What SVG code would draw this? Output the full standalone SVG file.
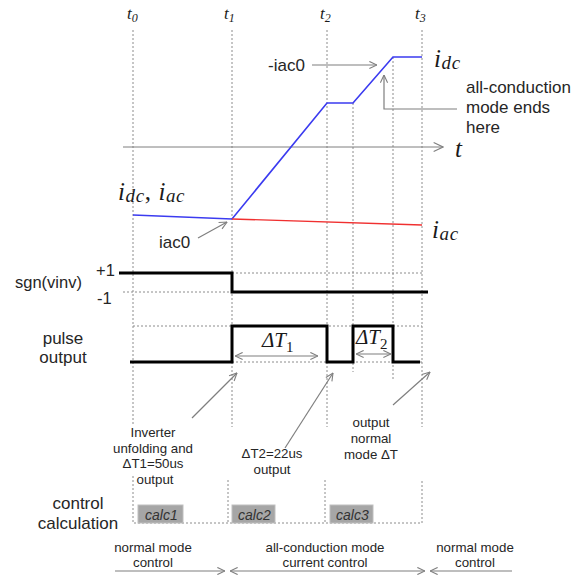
<svg xmlns="http://www.w3.org/2000/svg" width="581" height="575" viewBox="0 0 581 575">
<style>
.grid{stroke:#8c8c8c;stroke-width:1;stroke-dasharray:2 2;fill:none}
.lbl{font-family:"Liberation Sans",Arial,sans-serif;fill:#262626}
.math{font-family:"Liberation Serif","DejaVu Serif",serif;font-style:italic;fill:#1a1a1a}
.arr{stroke:#7f7f7f;stroke-width:1.2;fill:none}
.sig{stroke:#000;stroke-width:3;fill:none}
.calc{fill:#a6a6a6;stroke:#bfbfbf;stroke-width:1}
.ctx{font-family:"Liberation Sans",Arial,sans-serif;font-style:italic;font-size:14px;fill:#333}
</style>
<defs>
<marker id="ah" viewBox="0 0 10 10" refX="9.5" refY="5" markerWidth="9" markerHeight="9" orient="auto-start-reverse" markerUnits="userSpaceOnUse"><path d="M1,1 L9.5,5 L1,9" fill="none" stroke="#7f7f7f" stroke-width="1.2"/></marker>
<marker id="ax" viewBox="0 0 10 10" refX="9.5" refY="5" markerWidth="11" markerHeight="11" orient="auto" markerUnits="userSpaceOnUse"><path d="M1,1 L9.5,5 L1,9" fill="none" stroke="#7f7f7f" stroke-width="1"/></marker>
</defs>
<rect width="581" height="575" fill="#fff"/>

<g id="grid">
<path class="grid" d="M133,30 V425 M232,30 V427 M327,30 V427 M422,30 V427 M353,103 V372 M393,57 V380"/>
<path class="grid" d="M232,273 H422 M123,292 H232 M133,326 H422 M232,362 H422"/>
<path class="grid" d="M133,476 V523 H422 V480 M228,480 V523 M325,480 V523"/>
</g>

<g id="time-labels" class="math">
<text x="127" y="19" font-size="17">t<tspan font-size="12" dy="3">0</tspan></text>
<text x="224" y="19" font-size="17">t<tspan font-size="12" dy="3">1</tspan></text>
<text x="320" y="19" font-size="17">t<tspan font-size="12" dy="3">2</tspan></text>
<text x="415" y="19" font-size="17">t<tspan font-size="12" dy="3">3</tspan></text>
</g>

<g id="axis">
<path d="M123,147 H443" stroke="#7f7f7f" stroke-width="1" fill="none" marker-end="url(#ax)"/>
<text class="math" x="455" y="157" font-size="25">t</text>
</g>

<g id="currents">
<path d="M133,215 L232,219 L327,103 L353,103 L393,57 L422,57" stroke="#3b3bf0" stroke-width="1.6" fill="none"/>
<path d="M232,219 L422,225" stroke="#f03030" stroke-width="1.3" fill="none"/>
<text class="math" x="434" y="67" font-size="25" letter-spacing="0.6">i<tspan font-size="19" dy="2">dc</tspan></text>
<text class="math" x="118" y="200" font-size="25" letter-spacing="0.6">i<tspan font-size="19" dy="2">dc</tspan><tspan dy="-2" font-style="normal">, </tspan>i<tspan font-size="19" dy="2">ac</tspan></text>
<text class="math" x="432" y="238" font-size="25" letter-spacing="0.6">i<tspan font-size="19" dy="2">ac</tspan></text>
<text class="lbl" x="268" y="71" font-size="17">-iac0</text>
<text class="lbl" x="159" y="248" font-size="17">iac0</text>
<text class="lbl" x="466" y="93" font-size="17">all-conduction</text>
<text class="lbl" x="466" y="113" font-size="17">mode ends</text>
<text class="lbl" x="466" y="133" font-size="17">here</text>
</g>

<g id="sgn">
<path class="sig" d="M119,273 H232 V292 H428"/>
<text class="lbl" x="15" y="288" font-size="16.5">sgn(vinv)</text>
<text class="lbl" x="96" y="276" font-size="16.5">+1</text>
<text class="lbl" x="97" y="304" font-size="16.5">-1</text>
</g>

<g id="pulse">
<path class="sig" d="M130,362 H232 V326 H327 V362 H353 V326 H393 V362 H420"/>
<text class="lbl" x="63" y="344" font-size="17" text-anchor="middle">pulse</text>
<text class="lbl" x="63" y="363" font-size="17" text-anchor="middle">output</text>
<text class="math" x="262" y="347" font-size="21" font-style="normal">Δ<tspan font-style="italic">T</tspan><tspan font-size="15" dy="5" font-style="normal">1</tspan></text>
<text class="math" x="356" y="344" font-size="21" font-style="normal">Δ<tspan font-style="italic">T</tspan><tspan font-size="15" dy="5" font-style="normal">2</tspan></text>
</g>

<g id="notes" class="lbl" font-size="13.3" text-anchor="middle">
<text x="153" y="437">Inverter</text>
<text x="153" y="453">unfolding  and</text>
<text x="153" y="468">ΔT1=50us</text>
<text x="155" y="484">output</text>
<text x="272" y="458">ΔT2=22us</text>
<text x="272" y="474">output</text>
<text x="371" y="427">output</text>
<text x="371" y="443">normal</text>
<text x="371" y="459">mode ΔT</text>
</g>

<g id="control">
<text class="lbl" x="78" y="509" font-size="17" text-anchor="middle">control</text>
<text class="lbl" x="78" y="529" font-size="17" text-anchor="middle">calculation</text>
<g id="calc1"><rect class="calc" x="138" y="505" width="45" height="18"/><text class="ctx" x="145" y="520">calc1</text></g>
<g id="calc2"><rect class="calc" x="232" y="505" width="43" height="18"/><text class="ctx" x="238" y="520">calc2</text></g>
<g id="calc3"><rect class="calc" x="330" y="505" width="43" height="18"/><text class="ctx" x="336" y="520">calc3</text></g>
</g>

<g id="modes" class="lbl" font-size="13.3" text-anchor="middle">
<text x="153" y="552">normal mode</text>
<text x="153" y="567">control</text>
<text x="325" y="552">all-conduction  mode</text>
<text x="325" y="567">current control</text>
<text x="475" y="552">normal mode</text>
<text x="475" y="567">control</text>
</g>

<g id="connectors">
<path class="arr" d="M312,65 H377" marker-end="url(#ah)"/>
<path class="arr" d="M457,109 H384 V75" marker-end="url(#ah)"/>
<path class="arr" d="M198,238 L227,222" marker-end="url(#ah)"/>
<path class="arr" d="M235,356 H318" marker-start="url(#ah)" marker-end="url(#ah)"/>
<path class="arr" d="M356,354 H391" marker-start="url(#ah)" marker-end="url(#ah)"/>
<path class="arr" d="M192,418 L237,373" marker-end="url(#ah)"/>
<path class="arr" d="M285,448 L333,373" marker-end="url(#ah)"/>
<path class="arr" d="M393,405 L430,372" marker-end="url(#ah)"/>
<path class="arr" d="M115,571 H225" marker-end="url(#ah)"/>
<path class="arr" d="M230,571 H425" marker-start="url(#ah)" marker-end="url(#ah)"/>
<path class="arr" d="M512,571 H430" marker-end="url(#ah)"/>
</g>
</svg>
